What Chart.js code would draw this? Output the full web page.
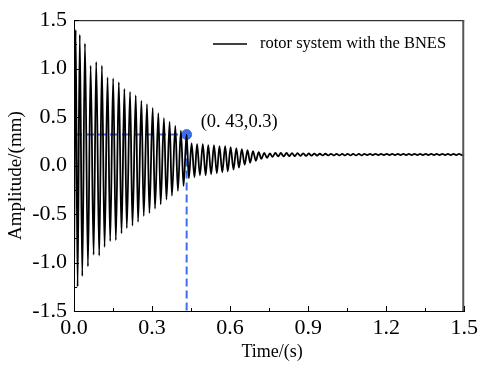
<!DOCTYPE html>
<html><head><meta charset="utf-8">
<script src="https://cdn.jsdelivr.net/npm/chart.js@4.4.0/dist/chart.umd.min.js"></script>
<style>html,body{margin:0;padding:0;background:#fff;}#wrap{width:482px;height:365px;}</style>
</head><body><div id="wrap"><canvas id="c" width="482" height="365"></canvas></div>
<script>
// ---- data (extremes of the response) ----
const timeDecay = [0, 0.0065, 0.0138, 0.0222, 0.0318, 0.0421, 0.0536, 0.0639, 0.0754, 0.0854, 0.0969, 0.1072, 0.1175, 0.1290, 0.1390, 0.1505, 0.1608, 0.1723, 0.1826, 0.1937, 0.2029, 0.2155, 0.2247, 0.2374, 0.2462, 0.2592, 0.2680, 0.2806, 0.2898, 0.3025, 0.3113, 0.3243, 0.3331, 0.3457, 0.3553, 0.3675, 0.3763, 0.3894, 0.3993, 0.4108, 0.4211, 0.4326, 0.4415, 0.452, 0.463, 0.473, 0.484, 0.495, 0.506, 0.516, 0.527, 0.538, 0.549, 0.559, 0.570, 0.581, 0.591, 0.602, 0.613, 0.624, 0.634, 0.645, 0.656, 0.667, 0.677, 0.688, 0.699, 0.710, 0.720, 0.731, 0.742, 0.753];
const ampDecay = [-1.22, 1.40, -1.25, 1.35, -1.14, 1.26, -1.04, 1.03, -0.92, 1.07, -0.93, 1.03, -0.84, 0.91, -0.78, 0.90, -0.77, 0.86, -0.70, 0.79, -0.645, 0.76, -0.62, 0.725, -0.58, 0.67, -0.52, 0.635, -0.49, 0.595, -0.445, 0.54, -0.40, 0.49, -0.35, 0.45, -0.31, 0.41, -0.26, 0.36, -0.21, 0.32, -0.13, 0.23, -0.12, 0.22, -0.10, 0.22, -0.10, 0.21, -0.09, 0.21, -0.08, 0.20, -0.07, 0.20, -0.06, 0.19, -0.04, 0.18, -0.02, 0.17, 0.01, 0.16, 0.03, 0.15, 0.05, 0.14, 0.07, 0.13, 0.08, 0.125];
const timeTail = [0.763, 0.774, 0.785, 0.795, 0.806, 0.817, 0.827, 0.838, 0.849, 0.859, 0.870, 0.881, 0.892, 0.902, 0.913, 0.924, 0.934, 0.945, 0.956, 0.966, 0.977, 0.988, 0.999, 1.009, 1.020, 1.031, 1.041, 1.052, 1.063, 1.073, 1.084, 1.095, 1.106, 1.116, 1.127, 1.138, 1.148, 1.159, 1.170, 1.180, 1.191, 1.202, 1.213, 1.223, 1.234, 1.245, 1.255, 1.266, 1.277, 1.287, 1.298, 1.309, 1.320, 1.330, 1.341, 1.352, 1.362, 1.373, 1.384, 1.394, 1.405, 1.416, 1.427, 1.437, 1.448, 1.459, 1.469, 1.480, 1.491, 1.500];
const ampTail = [0.09, 0.13, 0.095, 0.13, 0.095, 0.13, 0.098, 0.128, 0.098, 0.128, 0.10, 0.126, 0.10, 0.125, 0.102, 0.124, 0.103, 0.122, 0.105, 0.122,
  0.106, 0.121, 0.106, 0.121, 0.106, 0.121, 0.106, 0.121, 0.106, 0.121, 0.106, 0.121, 0.106, 0.121,
  0.108, 0.12, 0.108, 0.12, 0.108, 0.12, 0.108, 0.12, 0.108, 0.12, 0.108, 0.12, 0.108, 0.12, 0.108, 0.12, 0.108, 0.12,
  0.108, 0.12, 0.108, 0.12, 0.108, 0.12, 0.108, 0.12, 0.108, 0.12, 0.108, 0.12, 0.108, 0.12, 0.108, 0.12, 0.108, 0.12];
const markerTime = 0.433;
const markerAmp = 0.32;
const markerLabel = '(0. 43,0.3)';
const seriesLabel = 'rotor system with the BNES';
const xTicks = [0, 0.3, 0.6, 0.9, 1.2, 1.5];
const xMinor = [0.15, 0.45, 0.75, 1.05, 1.35];
const yTicks = [-1.5, -1.0, -0.5, 0.0, 0.5, 1.0, 1.5];
const yMinor = [-1.25, -0.75, -0.25, 0.25, 0.75, 1.25];
const xTitle = 'Time/(s)';
const yTitle = 'Amplitude/(mm)';

const toPts = (t, a) => t.slice(0, Math.min(t.length, a.length)).map((v, i) => ({x: v, y: a[i]}));
const response = toPts(timeDecay, ampDecay).concat(toPts(timeTail, ampTail));
const BLUE = '#3d6ef2';
const SERIF = "'Liberation Serif', 'Times New Roman', serif";

const deco = {
  id: 'deco',
  afterDatasetsDraw(chart) {
    const {ctx, chartArea: ca, scales: {x, y}} = chart;
    ctx.save();
    // frame (top + right)
    ctx.strokeStyle = '#000'; ctx.lineWidth = 1;
    ctx.beginPath(); ctx.moveTo(ca.left, ca.top + 0.5); ctx.lineTo(ca.right, ca.top + 0.5); ctx.stroke();
    ctx.strokeStyle = '#555'; ctx.lineWidth = 2;
    ctx.beginPath(); ctx.moveTo(ca.right - 1, ca.top); ctx.lineTo(ca.right - 1, ca.bottom); ctx.stroke();
    // inward ticks
    ctx.strokeStyle = '#000'; ctx.lineWidth = 1;
    const tickX = (v, len) => { const px = Math.round(x.getPixelForValue(v)) + 0.5; ctx.beginPath(); ctx.moveTo(px, ca.bottom); ctx.lineTo(px, ca.bottom - len); ctx.stroke(); };
    const tickY = (v, len) => { const py = Math.round(y.getPixelForValue(v)) + 0.5; ctx.beginPath(); ctx.moveTo(ca.left, py); ctx.lineTo(ca.left + len, py); ctx.stroke(); };
    xTicks.forEach(v => tickX(v, 5)); xMinor.forEach(v => tickX(v, 3));
    yTicks.forEach(v => tickY(v, 5)); yMinor.forEach(v => tickY(v, 3));
    // axis titles
    ctx.fillStyle = '#000';
    ctx.font = '18px ' + SERIF;
    ctx.textAlign = 'center'; ctx.textBaseline = 'middle';
    ctx.fillText(xTitle, (ca.left + ca.right) / 2 + 3, 352);
    ctx.save(); ctx.translate(16, (ca.top + ca.bottom) / 2 + 10); ctx.rotate(-Math.PI / 2);
    ctx.font = '19px ' + SERIF; ctx.fillText(yTitle, 0, 0); ctx.restore();
    // legend
    ctx.strokeStyle = '#000'; ctx.lineWidth = 1.3;
    ctx.beginPath(); ctx.moveTo(213, 44); ctx.lineTo(247, 44); ctx.stroke();
    ctx.font = '16.5px ' + SERIF; ctx.textAlign = 'left';
    ctx.fillText(seriesLabel, 260, 44);
    // annotation
    ctx.font = '18.5px ' + SERIF;
    ctx.fillText(markerLabel, x.getPixelForValue(markerTime) + 14, y.getPixelForValue(markerAmp) - 12);
    ctx.restore();
  }
};

new Chart(document.getElementById('c'), {
  type: 'scatter',
  data: {
    datasets: [
      {data: response, showLine: true, borderColor: '#000', borderWidth: 1.8, pointRadius: 0, cubicInterpolationMode: 'monotone'},
      {data: [{x: 0, y: markerAmp}, {x: markerTime, y: markerAmp}], showLine: true, borderColor: BLUE, borderWidth: 2, borderDash: [8, 4], pointRadius: 0},
      {data: [{x: markerTime, y: markerAmp}, {x: markerTime, y: -1.5}], showLine: true, borderColor: BLUE, borderWidth: 2, borderDash: [8, 4], pointRadius: 0},
      {data: [{x: markerTime, y: markerAmp}], pointRadius: 5, pointBackgroundColor: BLUE, pointBorderColor: BLUE, showLine: false}
    ]
  },
  options: {
    responsive: false, animation: false, devicePixelRatio: 1,
    layout: {padding: {top: 19, right: 16, left: 0, bottom: 0}},
    plugins: {legend: {display: false}, tooltip: {enabled: false}},
    scales: {
      x: {
        type: 'linear', min: 0, max: 1.5,
        afterBuildTicks: s => { s.ticks = xTicks.map(v => ({value: v})); },
        afterFit: s => { s.height = 54; },
        ticks: {callback: v => Number(v).toFixed(1), font: {family: SERIF, size: 22}, color: '#000', padding: 4, maxRotation: 0, autoSkip: false},
        grid: {display: false, drawTicks: false},
        border: {display: true, color: '#000', width: 1}
      },
      y: {
        type: 'linear', min: -1.5, max: 1.5,
        afterBuildTicks: s => { s.ticks = yTicks.map(v => ({value: v})); },
        afterFit: s => { s.width = 74; },
        ticks: {callback: v => Number(v).toFixed(1), font: {family: SERIF, size: 22}, color: '#000', padding: 7, autoSkip: false},
        grid: {display: false, drawTicks: false},
        border: {display: true, color: '#000', width: 1}
      }
    }
  },
  plugins: [deco]
});
</script></body></html>
